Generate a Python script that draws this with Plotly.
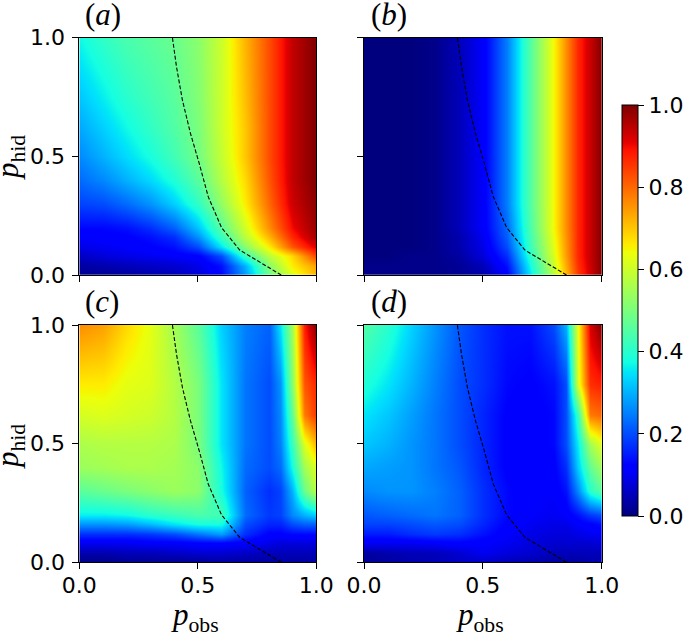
import plotly.graph_objects as go
from plotly.subplots import make_subplots

W, H = 685, 634

# grids for the colour maps
x_ab = [0, .1, .2, .3, .4, .5, .6, .7, .8, .9, 1]
x_cd = [0, .1, .2, .3, .4, .5, .6, .7, .8, .85, .9, .95, 1]
y_grid = [0, .04, .08, .12, .16, .2, .3, .4, .5, .62, .75, 1]

z_a = [
    [.02, .02, .03, .04, .05, .08, .13, .28, .48, .62, .72],
    [.03, .04, .05, .06, .07, .09, .14, .30, .52, .66, .74],
    [.06, .08, .09, .10, .11, .12, .20, .42, .58, .68, .84],
    [.09, .10, .11, .12, .14, .20, .35, .52, .66, .82, .92],
    [.11, .115, .12, .14, .17, .27, .42, .58, .72, .87, .97],
    [.13, .13, .14, .17, .22, .32, .46, .61, .76, .90, .98],
    [.19, .20, .23, .27, .33, .41, .53, .66, .80, .93, .99],
    [.23, .26, .30, .34, .39, .46, .57, .68, .82, .94, 1],
    [.26, .30, .34, .38, .43, .49, .59, .70, .83, .94, 1],
    [.29, .33, .37, .41, .45, .50, .60, .70, .83, .94, 1],
    [.32, .36, .40, .43, .46, .51, .60, .71, .83, .94, 1],
    [.37, .41, .44, .46, .48, .52, .60, .72, .83, .94, 1],
]
z_b = [
    [.01, .01, .01, .01, .02, .04, .12, .35, .58, .85, 1],
    [.01, .01, .01, .01, .02, .05, .14, .37, .60, .86, 1],
    [.0, .0, .01, .01, .03, .08, .17, .40, .62, .87, 1],
    [.0, .0, .0, .01, .04, .09, .20, .42, .63, .87, 1],
    [.0, .0, .0, .01, .04, .10, .22, .43, .64, .87, 1],
    [.0, .0, .0, .01, .05, .11, .23, .44, .65, .87, 1],
    [.0, .0, .0, .01, .05, .11, .25, .45, .65, .87, 1],
    [.0, .0, .0, .01, .05, .11, .25, .45, .65, .87, 1],
    [.0, .0, .0, .01, .05, .11, .25, .45, .65, .87, 1],
    [.0, .0, .0, .01, .05, .11, .25, .45, .65, .87, 1],
    [.0, .0, .0, .01, .05, .11, .25, .45, .65, .87, 1],
    [.0, .0, .0, .01, .05, .11, .25, .45, .65, .87, 1],
]
z_c = [
    [.01, .01, .02, .02, .02, .02, .03, .03, .03, .03, .03, .03, .03],
    [.04, .04, .05, .05, .06, .07, .07, .06, .05, .05, .05, .05, .05],
    [.10, .10, .10, .11, .11, .12, .12, .11, .09, .08, .08, .08, .08],
    [.17, .17, .17, .18, .20, .24, .28, .17, .12, .12, .13, .13, .13],
    [.27, .27, .28, .31, .35, .38, .38, .20, .16, .16, .20, .22, .22],
    [.36, .36, .37, .40, .42, .44, .43, .23, .18, .19, .26, .30, .33],
    [.46, .48, .50, .52, .54, .52, .38, .22, .17, .19, .30, .48, .58],
    [.54, .55, .56, .56, .55, .52, .37, .23, .20, .23, .38, .55, .62],
    [.56, .57, .57, .57, .56, .50, .35, .24, .20, .25, .42, .62, .72],
    [.61, .62, .61, .60, .57, .50, .35, .24, .20, .26, .47, .78, .85],
    [.66, .66, .63, .62, .57, .50, .35, .24, .20, .27, .52, .82, .87],
    [.76, .74, .68, .63, .55, .46, .33, .25, .22, .35, .55, .88, 1],
]
z_d = [
    [.02, .03, .04, .05, .06, .06, .05, .04, .03, .03, .03, .04, .04],
    [.03, .04, .05, .05, .07, .10, .08, .07, .05, .05, .05, .05, .05],
    [.10, .10, .10, .11, .12, .11, .10, .08, .07, .07, .07, .07, .08],
    [.15, .15, .17, .18, .17, .14, .11, .09, .08, .08, .09, .10, .10],
    [.19, .19, .20, .21, .20, .16, .12, .10, .09, .09, .11, .12, .14],
    [.21, .22, .23, .24, .22, .17, .13, .11, .10, .11, .14, .18, .20],
    [.26, .27, .27, .25, .22, .17, .13, .11, .11, .14, .26, .40, .46],
    [.29, .28, .27, .24, .21, .16, .12, .11, .12, .17, .33, .47, .55],
    [.32, .30, .27, .24, .20, .16, .12, .11, .13, .20, .36, .55, .63],
    [.35, .32, .28, .24, .20, .16, .12, .11, .13, .20, .42, .78, .80],
    [.39, .35, .30, .25, .20, .17, .13, .12, .14, .20, .62, .86, .88],
    [.45, .40, .33, .27, .21, .17, .14, .14, .20, .30, .64, .92, 1],
]

# dashed boundary, same in every panel
line_x = [.852, .677, .60, .544, .506, .469, .435, .41, .393]
line_y = [0, .105, .2, .33, .47, .597, .737, .878, 1]

panel_labels = ['a', 'b', 'c', 'd']
tick_vals = [0, .5, 1]
tick_text = ['0.0', '0.5', '1.0']

# matplotlib's jet
jet = [
    [0, 'rgb(0,0,127)'], [.11, 'rgb(0,0,255)'], [.125, 'rgb(0,0,255)'],
    [.34, 'rgb(0,219,255)'], [.35, 'rgb(0,229,247)'], [.375, 'rgb(20,255,226)'],
    [.64, 'rgb(237,255,10)'], [.65, 'rgb(247,245,0)'], [.66, 'rgb(255,236,0)'],
    [.89, 'rgb(255,18,0)'], [.91, 'rgb(228,0,0)'], [1, 'rgb(127,0,0)'],
]

tick_font = dict(family='DejaVu Sans', size=22, color='black')
serif = 'Liberation Serif'

fig = make_subplots(rows=2, cols=2)

# pixel boxes of the panels
x_boxes = [(79.3, 316.3), (364, 601.7)]
y_boxes = [(37.7, 275), (325, 562.3)]

axis_style = dict(range=[0, 1], tickvals=tick_vals, ticktext=tick_text, ticks='outside', ticklen=6, tickwidth=1,
                  tickcolor='black', tickfont=tick_font, showline=True, linecolor='black', linewidth=1,
                  mirror=True, showgrid=False, zeroline=False)

panels = [(z_a, x_ab, 1, 1), (z_b, x_ab, 1, 2), (z_c, x_cd, 2, 1), (z_d, x_cd, 2, 2)]
for z, xs, r, c in panels:
    fig.add_trace(go.Heatmap(x=xs, y=y_grid, z=z, coloraxis='coloraxis', zsmooth='best'), row=r, col=c)
    fig.add_trace(go.Scatter(x=line_x, y=line_y, mode='lines', showlegend=False, hoverinfo='skip',
                             line=dict(color='black', width=1.1, dash='4px,2px')), row=r, col=c)
    x0, x1 = x_boxes[c - 1]
    y0, y1 = y_boxes[r - 1]
    fig.update_xaxes(domain=[x0 / W, x1 / W], showticklabels=r == 2, ticklabelstandoff=-3, row=r, col=c, **axis_style)
    fig.update_yaxes(domain=[1 - y1 / H, 1 - y0 / H], showticklabels=c == 1, ticklabelstandoff=3, row=r, col=c, **axis_style)

# panel letters
label_pos = [(83, 15), (369, 15), (83, 302), (369, 302)]
for text, (px, py) in zip(panel_labels, label_pos):
    fig.add_annotation(text='(<i>' + text + '</i>)', xref='paper', yref='paper', x=px / W, y=1 - py / H,
                       xanchor='left', yanchor='middle', showarrow=False,
                       font=dict(family=serif, size=31, color='black'))

# axis titles
for py in [158, 447]:
    fig.add_annotation(text='<i>p</i><sub>hid</sub>', xref='paper', yref='paper', x=10 / W, y=1 - py / H,
                       xanchor='center', yanchor='middle', textangle=-90, showarrow=False,
                       font=dict(family=serif, size=31, color='black'))
for px in [195, 480]:
    fig.add_annotation(text='<i>p</i><sub>obs</sub>', xref='paper', yref='paper', x=px / W, y=1 - 617 / H,
                       xanchor='center', yanchor='middle', showarrow=False,
                       font=dict(family=serif, size=31, color='black'))

fig.update_layout(
    width=W, height=H, margin=dict(l=0, r=0, t=0, b=0, autoexpand=False), paper_bgcolor='white', plot_bgcolor='white',
    showlegend=False,
    coloraxis=dict(
        colorscale=jet, cmin=0, cmax=1,
        colorbar=dict(
            thickness=15.5, thicknessmode='pixels', len=411, lenmode='pixels',
            x=622 / W, xanchor='left', xpad=0, y=1 - 310.5 / H, yanchor='middle', ypad=0,
            tickvals=[0, .2, .4, .6, .8, 1], ticktext=['0.0', '0.2', '0.4', '0.6', '0.8', '1.0'],
            ticks='outside', ticklen=6, tickwidth=1, tickcolor='black', tickfont=tick_font,
            outlinecolor='black', outlinewidth=1,
        ),
    ),
)

fig.write_html("out.html", config=dict(displayModeBar=False), post_script="document.body.style.margin='0';")
